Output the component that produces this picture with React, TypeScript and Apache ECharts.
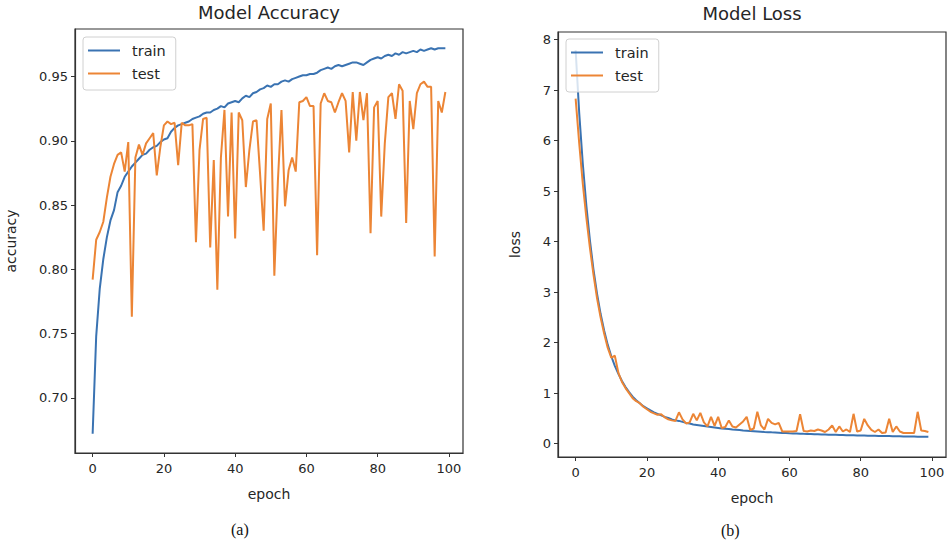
import React, { useEffect, useRef } from "react";
import * as echarts from "echarts";

const epochTicks = [0, 20, 40, 60, 80, 100];
const accTicks = [0.7, 0.75, 0.8, 0.85, 0.9, 0.95];
const lossTicks = [0, 1, 2, 3, 4, 5, 6, 7, 8];

const trainAcc = [
  0.672, 0.748, 0.785, 0.808, 0.825, 0.838, 0.846, 0.86, 0.865, 0.872,
  0.876, 0.88, 0.883, 0.886, 0.889, 0.89, 0.893, 0.895, 0.896, 0.899,
  0.901, 0.902, 0.907, 0.91, 0.912, 0.913, 0.914, 0.915, 0.917, 0.918,
  0.919, 0.921, 0.922, 0.922, 0.924, 0.925, 0.927, 0.926, 0.929, 0.93,
  0.931, 0.93, 0.933, 0.935, 0.934, 0.937, 0.938, 0.94, 0.941, 0.943,
  0.942, 0.944, 0.944, 0.946, 0.947, 0.946, 0.948, 0.949, 0.95, 0.951,
  0.951, 0.952, 0.952, 0.953, 0.955, 0.956, 0.957, 0.956, 0.958, 0.959,
  0.958, 0.959, 0.96, 0.961, 0.961, 0.96, 0.959, 0.961, 0.963, 0.964,
  0.965, 0.964, 0.966, 0.967, 0.966, 0.968, 0.967, 0.969, 0.968, 0.969,
  0.97, 0.969, 0.971, 0.97, 0.971, 0.972, 0.971, 0.972, 0.972, 0.972,
];

const testAcc = [
  0.792, 0.823, 0.829, 0.837, 0.856, 0.872, 0.882, 0.889, 0.891, 0.876,
  0.899, 0.763, 0.887, 0.897, 0.889, 0.898, 0.902, 0.906, 0.873, 0.895,
  0.912, 0.915, 0.913, 0.914, 0.881, 0.914, 0.912, 0.912, 0.913, 0.821,
  0.893, 0.917, 0.918, 0.817, 0.885, 0.784, 0.887, 0.924, 0.841, 0.922,
  0.824, 0.922, 0.916, 0.864, 0.893, 0.915, 0.916, 0.874, 0.83, 0.917,
  0.929, 0.795, 0.869, 0.924, 0.849, 0.877, 0.887, 0.876, 0.93, 0.931,
  0.934, 0.927, 0.927, 0.811, 0.929, 0.937, 0.931, 0.93, 0.922, 0.93,
  0.937, 0.931, 0.891, 0.938, 0.9, 0.938, 0.916, 0.937, 0.828, 0.926,
  0.931, 0.841, 0.898, 0.934, 0.937, 0.917, 0.944, 0.939, 0.836, 0.931,
  0.909, 0.937, 0.944, 0.946, 0.942, 0.942, 0.81, 0.931, 0.922, 0.938,
];

const trainLoss = [
  7.79, 6.55, 5.55, 4.72, 4.03, 3.45, 2.97, 2.57, 2.24, 1.96,
  1.73, 1.54, 1.38, 1.24, 1.12, 1.02, 0.93, 0.86, 0.8, 0.74,
  0.7, 0.66, 0.62, 0.59, 0.56, 0.53, 0.51, 0.48, 0.46, 0.45,
  0.43, 0.41, 0.4, 0.38, 0.37, 0.36, 0.35, 0.34, 0.33, 0.32,
  0.31, 0.3, 0.295, 0.29, 0.28, 0.275, 0.27, 0.26, 0.255, 0.25,
  0.245, 0.24, 0.235, 0.23, 0.227, 0.223, 0.22, 0.216, 0.212, 0.209,
  0.205, 0.202, 0.2, 0.197, 0.194, 0.192, 0.19, 0.187, 0.185, 0.182,
  0.18, 0.178, 0.176, 0.174, 0.172, 0.17, 0.168, 0.166, 0.165, 0.163,
  0.161, 0.16, 0.158, 0.156, 0.155, 0.153, 0.152, 0.15, 0.149, 0.147,
  0.146, 0.145, 0.143, 0.142, 0.141, 0.14, 0.138, 0.137, 0.136, 0.135,
];

const testLoss = [
  6.83, 5.95, 5.15, 4.48, 3.88, 3.35, 2.88, 2.5, 2.18, 1.9,
  1.7, 1.74, 1.4, 1.22, 1.1, 1.0, 0.9, 0.84, 0.8, 0.73,
  0.68, 0.63, 0.6, 0.57, 0.58, 0.52, 0.48, 0.46, 0.45, 0.62,
  0.48, 0.4, 0.42, 0.59, 0.46, 0.61, 0.42, 0.34, 0.53, 0.35,
  0.53, 0.31, 0.33, 0.46, 0.34, 0.32, 0.38, 0.44, 0.53, 0.27,
  0.3, 0.63, 0.36, 0.28, 0.49, 0.41, 0.38, 0.41, 0.24, 0.24,
  0.24, 0.24, 0.25, 0.58, 0.25, 0.24, 0.26, 0.25, 0.28, 0.26,
  0.23, 0.28, 0.36, 0.23, 0.34, 0.24, 0.28, 0.23, 0.59, 0.24,
  0.26, 0.49, 0.36, 0.27, 0.23, 0.28, 0.21, 0.22, 0.49, 0.23,
  0.34, 0.24, 0.21, 0.21, 0.21, 0.21, 0.63, 0.26, 0.25, 0.23,
];

const BLUE = "#3a73b2";
const ORANGE = "#ec8535";
const FONT = "DejaVu Sans";
const INK = "#262626";

const pairs = (vals: number[]) => vals.map((v, i) => [i, v]);

export default function App() {
  const ref = useRef<HTMLDivElement>(null);
  useEffect(() => {
    if (!ref.current) return;
    const chart = echarts.init(ref.current, undefined, { renderer: "svg" });
    const xAxisBase = (gridIndex: number) => ({
      type: "value",
      gridIndex,
      min: -4.95,
      max: 103.95,
      name: "epoch",
      nameLocation: "middle",
      nameGap: 34,
      nameTextStyle: { fontFamily: FONT, fontSize: 14, color: INK },
      axisLine: { show: true, onZero: false, lineStyle: { color: "#333", width: 1.2 } },
      axisTick: { show: true, customValues: epochTicks, length: 4, lineStyle: { color: "#333" } },
      axisLabel: { customValues: epochTicks, margin: 9, fontFamily: FONT, fontSize: 13, color: INK },
      splitLine: { show: false },
    });
    const legendBase = (left: number, top: number) => ({
      left,
      top,
      orient: "vertical",
      data: ["train", "test"],
      icon: "rect",
      itemWidth: 32,
      itemHeight: 2,
      itemGap: 6,
      padding: [5, 10, 8, 5],
      backgroundColor: "rgba(255,255,255,0.8)",
      borderColor: "#d0d0d0",
      borderWidth: 1,
      borderRadius: 3,
      selectedMode: false,
      textStyle: { fontFamily: FONT, fontSize: 14.5, color: INK, lineHeight: 17, padding: [0, 0, 0, 7] },
    });
    const option: any = {
      animation: false,
      backgroundColor: "#ffffff",
      title: [
        {
          text: "Model Accuracy",
          left: 269,
          top: 3,
          textAlign: "center",
          padding: 0,
          textStyle: { fontFamily: FONT, fontSize: 18, fontWeight: "normal", color: INK },
        },
        {
          text: "Model Loss",
          left: 752,
          top: 4,
          textAlign: "center",
          padding: 0,
          textStyle: { fontFamily: FONT, fontSize: 18, fontWeight: "normal", color: INK },
        },
      ],
      legend: [legendBase(83, 37), legendBase(566, 39)],
      grid: [
        { left: 75, top: 29, width: 388, height: 424, show: true, borderColor: "#333", borderWidth: 1.2, backgroundColor: "transparent" },
        { left: 558, top: 32, width: 388, height: 425, show: true, borderColor: "#333", borderWidth: 1.2, backgroundColor: "transparent" },
      ],
      xAxis: [xAxisBase(0), xAxisBase(1)],
      yAxis: [
        {
          type: "value",
          gridIndex: 0,
          min: 0.657,
          max: 0.987,
          name: "accuracy",
          nameLocation: "middle",
          nameGap: 57,
          nameRotate: 90,
          nameTextStyle: { fontFamily: FONT, fontSize: 14, color: INK },
          axisLine: { show: true, onZero: false, lineStyle: { color: "#333", width: 1.2 } },
          axisTick: { show: true, customValues: accTicks, length: 4, lineStyle: { color: "#333" } },
          axisLabel: {
            customValues: accTicks,
            margin: 7,
            fontFamily: FONT,
            fontSize: 13,
            color: INK,
            formatter: (v: number) => v.toFixed(2),
          },
          splitLine: { show: false },
        },
        {
          type: "value",
          gridIndex: 1,
          min: -0.265,
          max: 8.15,
          name: "loss",
          nameLocation: "middle",
          nameGap: 36,
          nameRotate: 90,
          nameTextStyle: { fontFamily: FONT, fontSize: 14, color: INK },
          axisLine: { show: true, onZero: false, lineStyle: { color: "#333", width: 1.2 } },
          axisTick: { show: true, customValues: lossTicks, length: 4, lineStyle: { color: "#333" } },
          axisLabel: { customValues: lossTicks, margin: 7, fontFamily: FONT, fontSize: 13, color: INK },
          splitLine: { show: false },
        },
      ],
      series: [
        { name: "train", type: "line", xAxisIndex: 0, yAxisIndex: 0, data: pairs(trainAcc), showSymbol: false, symbol: "none", lineStyle: { color: BLUE, width: 2 }, itemStyle: { color: BLUE } },
        { name: "test", type: "line", xAxisIndex: 0, yAxisIndex: 0, data: pairs(testAcc), showSymbol: false, symbol: "none", lineStyle: { color: ORANGE, width: 2 }, itemStyle: { color: ORANGE } },
        { name: "train", type: "line", xAxisIndex: 1, yAxisIndex: 1, data: pairs(trainLoss), showSymbol: false, symbol: "none", lineStyle: { color: BLUE, width: 2 }, itemStyle: { color: BLUE } },
        { name: "test", type: "line", xAxisIndex: 1, yAxisIndex: 1, data: pairs(testLoss), showSymbol: false, symbol: "none", lineStyle: { color: ORANGE, width: 2 }, itemStyle: { color: ORANGE } },
      ],
      graphic: [
        { type: "text", left: 231, top: 521, style: { text: "(a)", font: "16px 'Liberation Serif'", fill: "#111" } },
        { type: "text", left: 721, top: 522, style: { text: "(b)", font: "16px 'Liberation Serif'", fill: "#111" } },
      ],
    };
    chart.setOption(option);
    return () => chart.dispose();
  }, []);
  return (
    <div
      ref={ref}
      style={{ position: "fixed", left: 0, top: 0, width: 949, height: 547, background: "#fff" }}
    />
  );
}
